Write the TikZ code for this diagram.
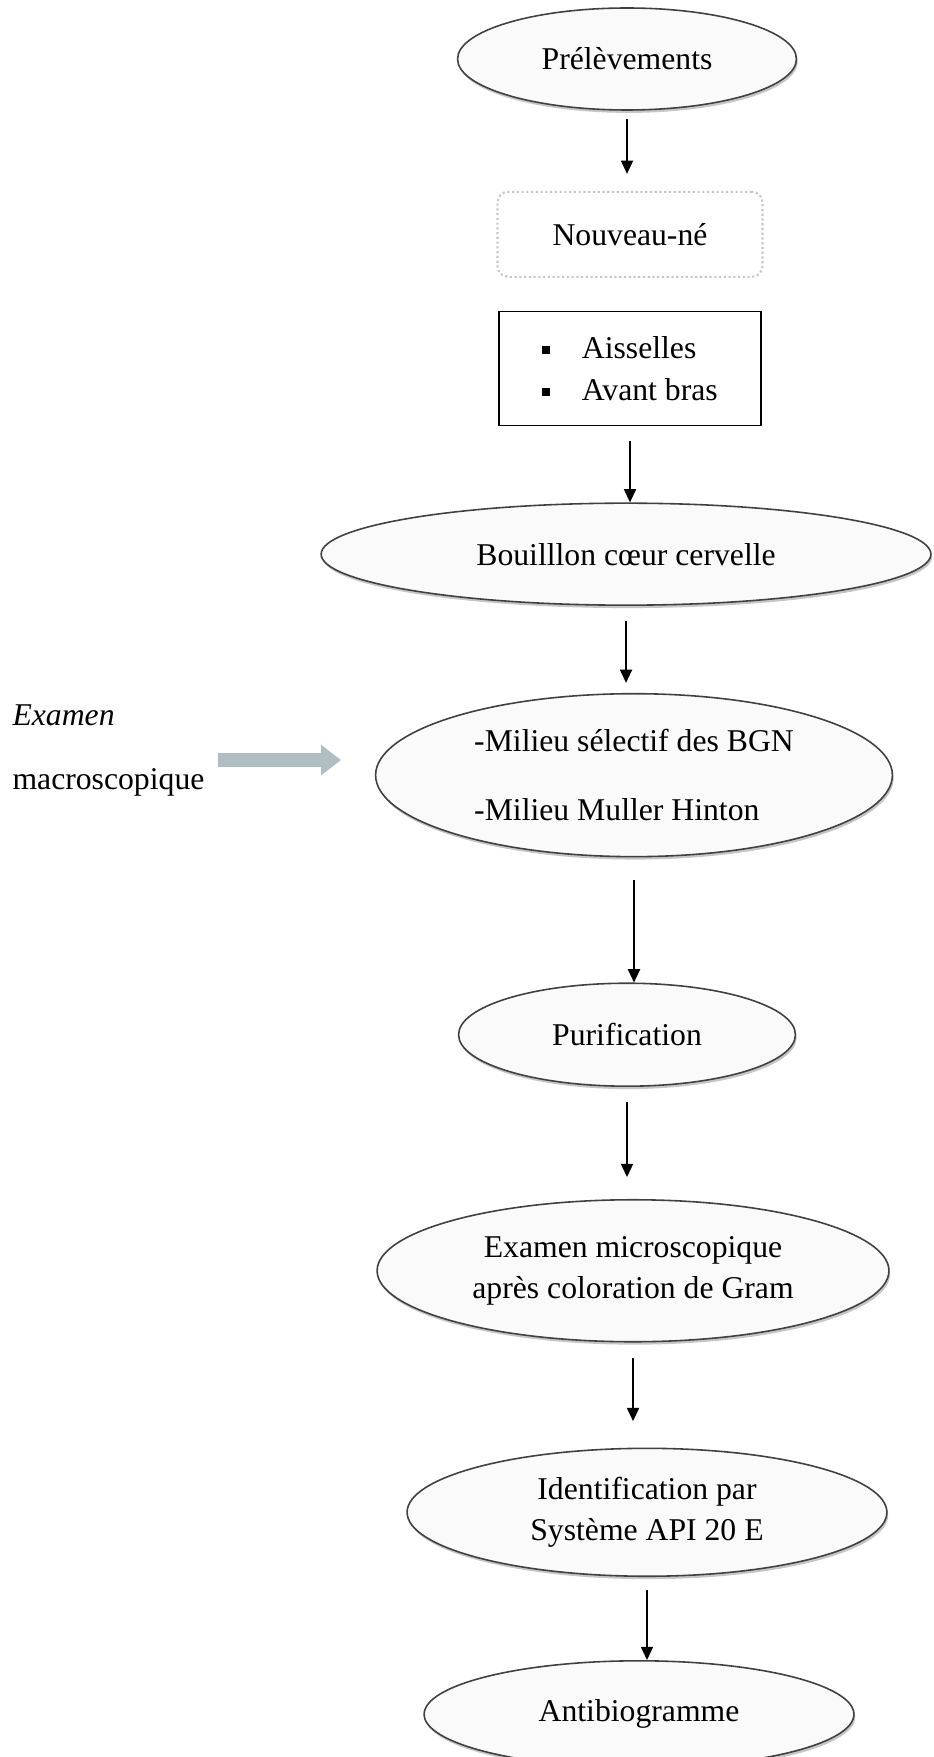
\documentclass[tikz,border=0pt]{standalone}
\usepackage{fontspec}
\setmainfont{Liberation Serif}
\usepackage{tikz}
\usetikzlibrary{positioning}
\usetikzlibrary{shapes.geometric}
\usetikzlibrary{arrows.meta,shadows}

\definecolor{arrowgray}{RGB}{176,190,196}
\newcommand{\sqbul}{\raisebox{1.6pt}{\rule{3pt}{3pt}}\hspace{12pt}}

\begin{document}
\begin{tikzpicture}[
    x=0.0133cm, y=-0.0133cm,
    font=\fontsize{12}{14.5}\selectfont,
    stage/.style={draw=black!75,ellipse,fill=gray!4,inner sep=0pt,align=center,line width=0.6pt,
      drop shadow={shadow xshift=0.5pt,shadow yshift=-1.1pt,opacity=0.45,fill=gray}},
    softbox/.style={draw=gray!45,densely dotted,line width=0.8pt,rounded corners=4pt,
      minimum width=3.525cm,minimum height=1.131cm},
    sitebox/.style={draw,line width=0.6pt,minimum width=3.485cm,minimum height=1.516cm,align=left},
    flow/.style={-{Triangle[length=5pt,width=4.6pt]},line width=0.5pt},
    bigarrow/.style={line width=5.5pt,draw=arrowgray,-{Triangle[length=7.5pt,width=11pt]}},
    sidetext/.style={anchor=west,inner sep=0pt}
    ]
    \useasboundingbox (0,0) rectangle (933,1757);

    \node[stage,minimum width=4.509cm,minimum height=1.357cm] (prel) at (627,59) {Prélèvements};
    \node[softbox,below=1.064cm of prel,xshift=0.04cm] (nne) {Nouveau-né};
    \node[sitebox,below=0.439cm of nne] (sites) {\sqbul Aisselles\\[1.3pt]\sqbul Avant bras};

    \node[stage,minimum width=8.113cm,minimum height=1.357cm,below=1.011cm of sites,xshift=-0.053cm] (broth) {Bouilllon cœur cervelle};
    \node[stage,minimum width=6.876cm,minimum height=2.168cm,below=1.157cm of broth,xshift=0.106cm,align=left] (milieu)
      {-Milieu sélectif des BGN\\[11.8pt]-Milieu Muller Hinton};
    \node[stage,minimum width=4.482cm,minimum height=1.370cm,below=1.663cm of milieu,xshift=-0.093cm] (purif) {Purification};
    \node[stage,minimum width=6.810cm,minimum height=1.889cm,below=1.490cm of purif,xshift=0.08cm] (micro)
      {Examen microscopique\\[1.3pt]après coloration de Gram};
    \node[stage,minimum width=6.384cm,minimum height=1.702cm,below=1.397cm of micro,xshift=0.186cm] (ident)
      {Identification par\\[1.3pt]Système API 20 E};
    \node[stage,minimum width=5.719cm,minimum height=1.423cm,below=1.104cm of ident,xshift=-0.106cm] (antib) {Antibiogramme};

    \node[sidetext] (exam) at (12,715) {\textit{Examen}};
    \node[sidetext] (macro) at (12,782) {macroscopique};

    % large grey arrow, kept horizontal
    \coordinate (gstart) at ([xshift=4.9pt,yshift=8.3pt]macro.east);
    \coordinate (gend) at (gstart -| milieu.west);
    \draw[bigarrow,shorten >=12.8pt] (gstart) -- (gend);

    \path (prel.south) edge[flow,shorten <=3pt,shorten >=6.4pt] (prel.south |- nne.north)
    (sites.south) edge[flow,shorten <=5.7pt] (sites.south |- broth.north)
    (broth.south) edge[flow,shorten <=5.7pt,shorten >=3.8pt] (broth.south |- milieu.north)
    (milieu.south) edge[flow,shorten <=8.7pt] (milieu.south |- purif.north)
    (purif.south) edge[flow,shorten <=5.7pt,shorten >=8.3pt] (purif.south |- micro.north)
    (micro.south) edge[flow,shorten <=6pt,shorten >=10pt] (micro.south |- ident.north)
    (ident.south) edge[flow,shorten <=4.9pt] (ident.south |- antib.north)
    ;

\end{tikzpicture}
\end{document}
